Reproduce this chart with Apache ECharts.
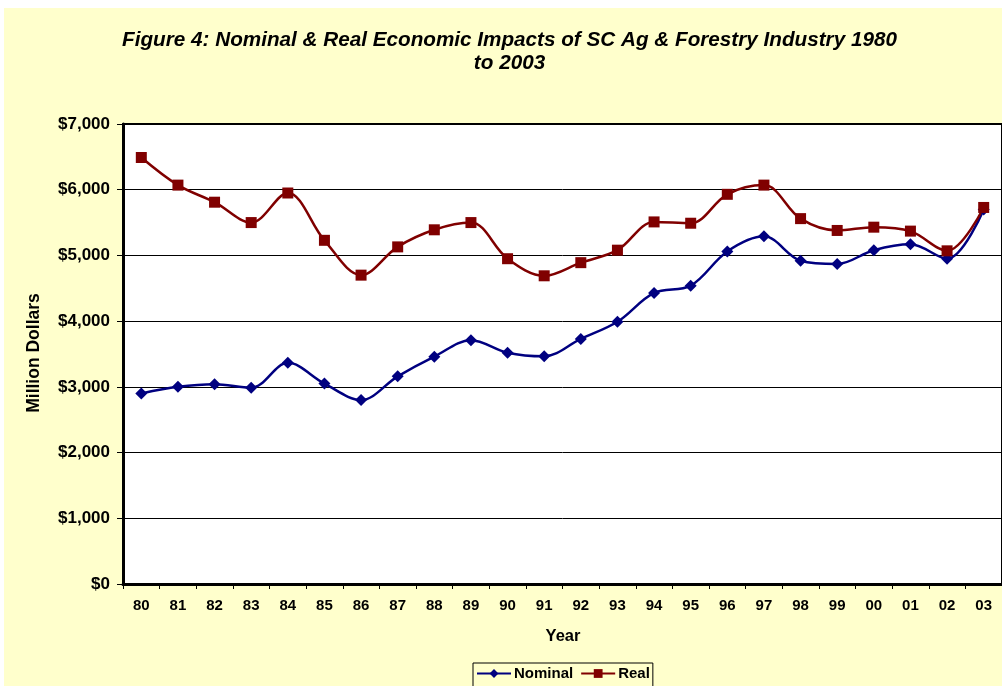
<!DOCTYPE html>
<html>
<head>
<meta charset="utf-8">
<script src="https://cdn.jsdelivr.net/npm/echarts@6/dist/echarts.min.js"></script>
<style>
  html, body { margin: 0; padding: 0; background: #ffffff; width: 1002px; height: 686px; overflow: hidden; }
  #chart { position: absolute; left: 4px; top: 8px; width: 998px; height: 678px; background: #FFFFCC; }
</style>
</head>
<body>
<div id="chart"></div>
<script>
const years = ['80','81','82','83','84','85','86','87','88','89','90','91','92','93','94','95','96','97','98','99','00','01','02','03'];
const nominal = [2900, 3000, 3040, 2985, 3365, 3050, 2800, 3160, 3460, 3710, 3520, 3465, 3730, 3990, 4430, 4540, 5060, 5290, 4920, 4870, 5080, 5170, 4950, 5700];
const real = [6490, 6070, 5810, 5500, 5950, 5230, 4700, 5130, 5390, 5500, 4950, 4690, 4890, 5080, 5510, 5490, 5930, 6070, 5560, 5380, 5430, 5370, 5070, 5730];
const titleText = 'Figure 4: Nominal & Real Economic Impacts of SC Ag & Forestry Industry 1980\nto 2003';
const yTitle = 'Million Dollars';
const xTitle = 'Year';

const chart = echarts.init(document.getElementById('chart'), null, { renderer: 'canvas' });
const AR = '"Liberation Sans", Arial, sans-serif';

function money(v) {
  return '$' + String(v).replace(/\B(?=(\d{3})+(?!\d))/g, ',');
}

chart.setOption({
  animation: false,
  backgroundColor: '#FFFFCC',
  graphic: [
    { type: 'text', x: 505.5, y: 21, style: { text: titleText, font: 'italic bold 20.7px ' + AR, fill: '#000', textAlign: 'center', textVerticalAlign: 'top', lineHeight: 23 } },
    { type: 'text', x: 30.5, y: 345, rotation: Math.PI / 2, style: { text: yTitle, font: 'bold 17.5px ' + AR, fill: '#000', textAlign: 'center', textVerticalAlign: 'middle' } },
    { type: 'text', x: 559, y: 628, style: { text: xTitle, font: 'bold 16.5px ' + AR, fill: '#000', textAlign: 'center', textVerticalAlign: 'middle' } }
  ],
  grid: {
    left: 119, top: 116, width: 880, height: 460,
    show: true, backgroundColor: '#ffffff', borderColor: '#000', borderWidth: 2
  },
  legend: {
    left: 469, top: 655,
    padding: [3, 3, 10, 3],
    itemGap: 7, itemWidth: 34, itemHeight: 11,
    borderColor: '#000', borderWidth: 1, backgroundColor: '#FFFFCC',
    textStyle: { fontFamily: AR, fontWeight: 'bold', fontSize: 15, color: '#000', padding: [0, 0, 0, -2] },
    data: ['Nominal', 'Real']
  },
  xAxis: {
    type: 'category',
    data: years,
    boundaryGap: true,
    axisLine: { lineStyle: { color: '#000', width: 3 } },
    axisTick: { show: true, length: 5, lineStyle: { color: '#000', width: 1 } },
    axisLabel: { margin: 14, fontFamily: AR, fontWeight: 'bold', fontSize: 15, color: '#000' },
    splitLine: { show: false }
  },
  yAxis: {
    type: 'value',
    min: 0, max: 7000, interval: 1000,
    axisLine: { show: true, lineStyle: { color: '#000', width: 3 } },
    axisTick: { show: true, length: 6, lineStyle: { color: '#000', width: 1 } },
    axisLabel: { margin: 13, fontFamily: AR, fontWeight: 'bold', fontSize: 17, color: '#000', formatter: money },
    splitLine: { show: true, lineStyle: { color: '#000', width: 1 } }
  },
  series: [
    {
      name: 'Nominal', type: 'line', data: nominal, smooth: 0.35,
      symbol: 'diamond', symbolSize: 12,
      lineStyle: { color: '#000080', width: 2.5 },
      itemStyle: { color: '#000080' }
    },
    {
      name: 'Real', type: 'line', data: real, smooth: 0.35,
      symbol: 'rect', symbolSize: 11,
      lineStyle: { color: '#800000', width: 2.5 },
      itemStyle: { color: '#800000' }
    }
  ]
});
</script>
</body>
</html>
